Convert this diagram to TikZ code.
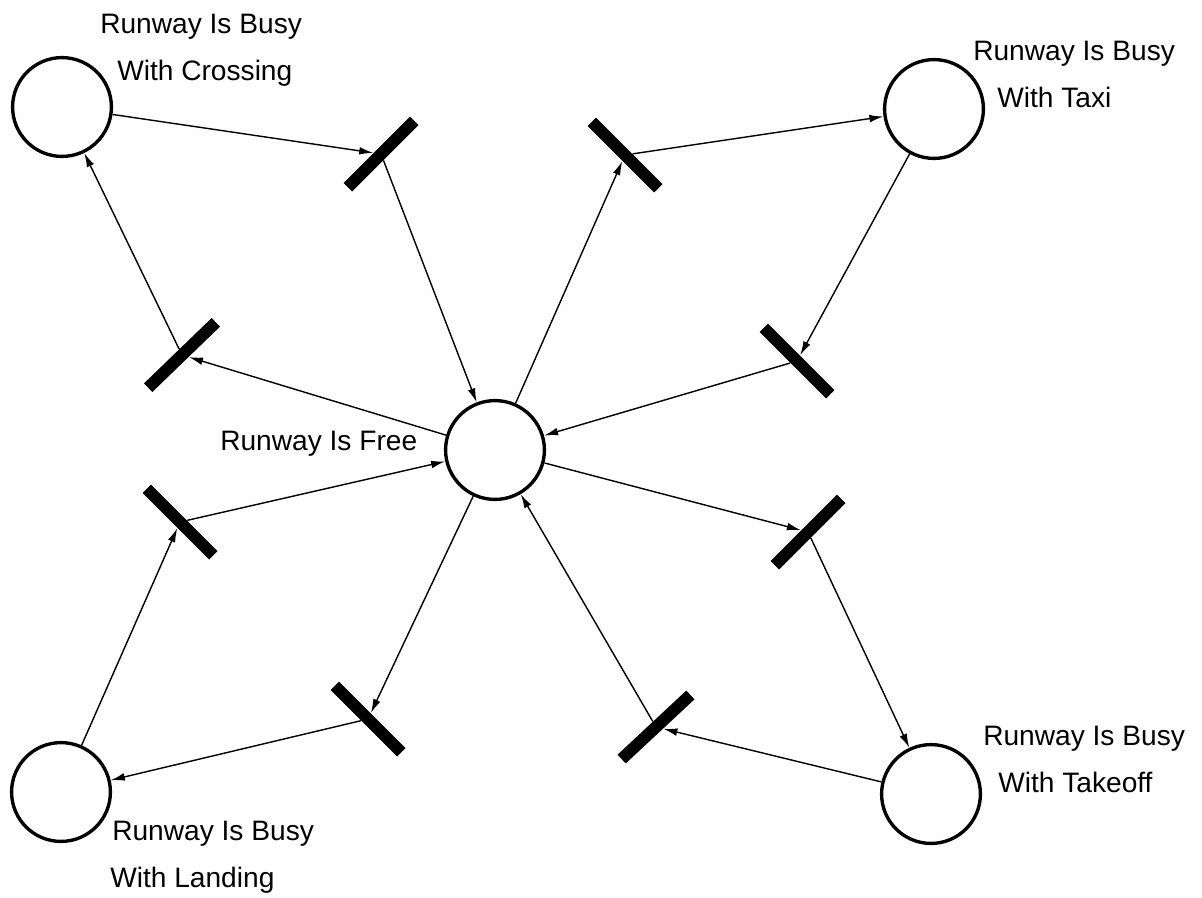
\documentclass[tikz,border=0pt]{standalone}
\usepackage{fontspec}
\setmainfont{Liberation Sans}
\usepackage{tikz}
\usetikzlibrary{arrows.meta}
\tikzset{
	place/.style={circle,draw=black,line width=2.4pt,minimum size=2.47cm,inner sep=0pt},
	trans/.style={rectangle,fill=black,minimum width=2.35cm,minimum height=0.3cm,inner sep=0pt},
	arc/.style={-{Latex[length=10pt,width=5.5pt]},line width=1pt},
	txt/.style={font=\fontsize{20}{24}\selectfont,inner sep=0pt,anchor=base west}
}

\begin{document}
\begin{tikzpicture}[x=0.025cm,y=0.025cm]
  \useasboundingbox (0,0) rectangle (1202,-897);

  % places
  \node[place] (crossing) at (62,-107) {};
  \node[place] (taxi) at (934,-109) {};
  \node[place] (free) at (495,-450) {};
  \node[place] (landing) at (61,-792) {};
  \node[place] (takeoff) at (931,-794) {};

  % transitions
  \node[trans,rotate=45] (t1) at (381,-154) {};
  \node[trans,rotate=-45] (t2) at (625,-155) {};
  \node[trans,rotate=-45] (t3) at (797,-361) {};
  \node[trans,rotate=45] (t4) at (808,-532) {};
  \node[trans,rotate=43] (t5) at (656,-727) {};
  \node[trans,rotate=-45] (t6) at (368,-719) {};
  \node[trans,rotate=-45] (t7) at (180,-522) {};
  \node[trans,rotate=44] (t8) at (182,-355) {};

  % place names
  \node[txt] (lcross1) at (100,-33) {Runway Is Busy};
  \node[txt] (lcross2) at (117,-80) {With Crossing};
  \node[txt] (ltaxi1) at (973,-60) {Runway Is Busy};
  \node[txt] (ltaxi2) at (997,-107) {With Taxi};
  \node[txt] (lfree) at (220,-450) {Runway Is Free};
  \node[txt] (lland1) at (112,-840) {Runway Is Busy};
  \node[txt] (lland2) at (110,-887) {With Landing};
  \node[txt] (ltake1) at (983,-745) {Runway Is Busy};
  \node[txt] (ltake2) at (998,-792) {With Takeoff};

  \path (crossing) edge[arc] (t1);
  \path (t1) edge[arc] (free);
  \path (free) edge[arc] (t2);
  \path (t2) edge[arc] (taxi);
  \path (taxi) edge[arc] (t3);
  \path (t3) edge[arc] (free);
  \path (free) edge[arc] (t4);
  \path (t4) edge[arc] (takeoff);
  \path (takeoff) edge[arc] (t5);
  \path (t5) edge[arc] (free);
  \path (free) edge[arc] (t6);
  \path (t6) edge[arc] (landing);
  \path (landing) edge[arc] (t7);
  \path (t7) edge[arc] (free);
  \path (free) edge[arc] (t8);
  \path (t8) edge[arc] (crossing);
\end{tikzpicture}
\end{document}
